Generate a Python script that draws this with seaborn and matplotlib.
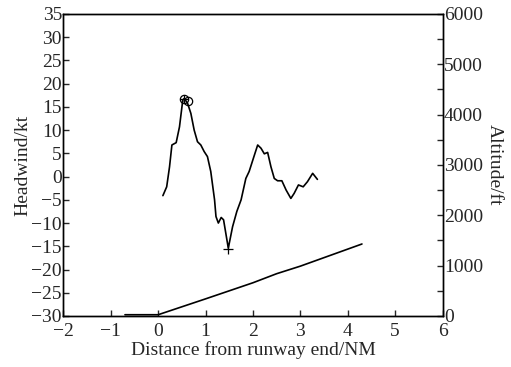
import numpy as np
import pandas as pd
import matplotlib
matplotlib.use("Agg")
import matplotlib.pyplot as plt
import seaborn as sns

# Datos
dist_viento = [0.10, 0.18, 0.24, 0.29, 0.38, 0.45, 0.52, 0.55, 0.62, 0.69, 0.76,
               0.83, 0.90, 0.97, 1.04, 1.11, 1.19, 1.22, 1.27, 1.33, 1.38, 1.48,
               1.57, 1.66, 1.75, 1.85, 1.92, 2.03, 2.10, 2.17, 2.24, 2.31, 2.38,
               2.45, 2.52, 2.61, 2.70, 2.80, 2.87, 2.96, 3.06, 3.15, 3.26, 3.36]
viento = [-4.1, -2.2, 2.1, 6.8, 7.3, 10.7, 16.5, 16.8, 15.8, 13.6, 10.0,
          7.5, 6.8, 5.4, 4.3, 1.1, -5.0, -8.6, -10.0, -8.8, -9.3, -15.4,
          -10.8, -7.5, -5.0, -0.4, 1.1, 4.6, 6.8, 6.1, 4.9, 5.2, 2.1,
          -0.4, -0.9, -0.9, -2.9, -4.7, -3.6, -1.8, -2.2, -1.1, 0.7, -0.6]

# marcas especiales: maximo (circulos) y minimo (cruz)
pico_x = [0.55, 0.62]
pico_y = [16.8, 16.2]
minimo_x = [1.48]
minimo_y = [-15.5]

dist_altitud = [-0.7, 0.0, 1.0, 2.0, 2.5, 3.0, 4.3]
altitud = [25, 25, 340, 660, 840, 990, 1430]

df_viento = pd.DataFrame({'dist': dist_viento, 'viento': viento})
df_alt = pd.DataFrame({'dist': dist_altitud, 'alt': altitud})

sns.set_style("ticks")
plt.rcParams['font.family'] = ['Liberation Serif', 'DejaVu Serif']

fs = 14
fig, ax = plt.subplots(figsize=(5.11, 3.67), dpi=100)
fig.subplots_adjust(left=0.124, right=0.866, top=0.962, bottom=0.139)

sns.lineplot(data=df_viento, x='dist', y='viento', ax=ax, color='black',
             linewidth=1.2, sort=False)
ax.plot(pico_x, pico_y, linestyle='none', marker='o', markersize=6,
        markerfacecolor='none', markeredgecolor='black', markeredgewidth=0.9)
ax.plot(pico_x[:1], pico_y[:1], linestyle='none', marker='+', markersize=6,
        color='black', markeredgewidth=0.9)
ax.plot(minimo_x, minimo_y, linestyle='none', marker='+', markersize=7,
        color='black', markeredgewidth=0.9)

ax.set_xlim(-2, 6)
ax.set_ylim(-30, 35)
ax.set_xticks(range(-2, 7))
ax.set_yticks(range(-30, 36, 5))
ax.set_xlabel('Distance from runway end/NM', fontsize=fs, labelpad=1)
ax.set_ylabel('Headwind/kt', fontsize=fs, labelpad=0)
ax.tick_params(direction='in', labelsize=fs, length=4, width=1, pad=1)
ax.tick_params(axis='x', pad=5)

ax2 = ax.twinx()
sns.lineplot(data=df_alt, x='dist', y='alt', ax=ax2, color='black',
             linewidth=1.2, sort=False)
ax2.set_ylim(0, 6000)
ax2.set_yticks(range(0, 6001, 1000))
ax2.set_yticks(range(500, 6000, 1000), minor=True)
ax2.set_ylabel('Altitude/ft', fontsize=fs, rotation=270, labelpad=14)
ax2.tick_params(axis='y', which='both', direction='in', labelsize=fs, length=4,
                width=1, pad=1)

for a in (ax, ax2):
    for s in a.spines.values():
        s.set_visible(True)
        s.set_linewidth(1.0)
        s.set_color('black')

fig.savefig('out.png', dpi=100)
